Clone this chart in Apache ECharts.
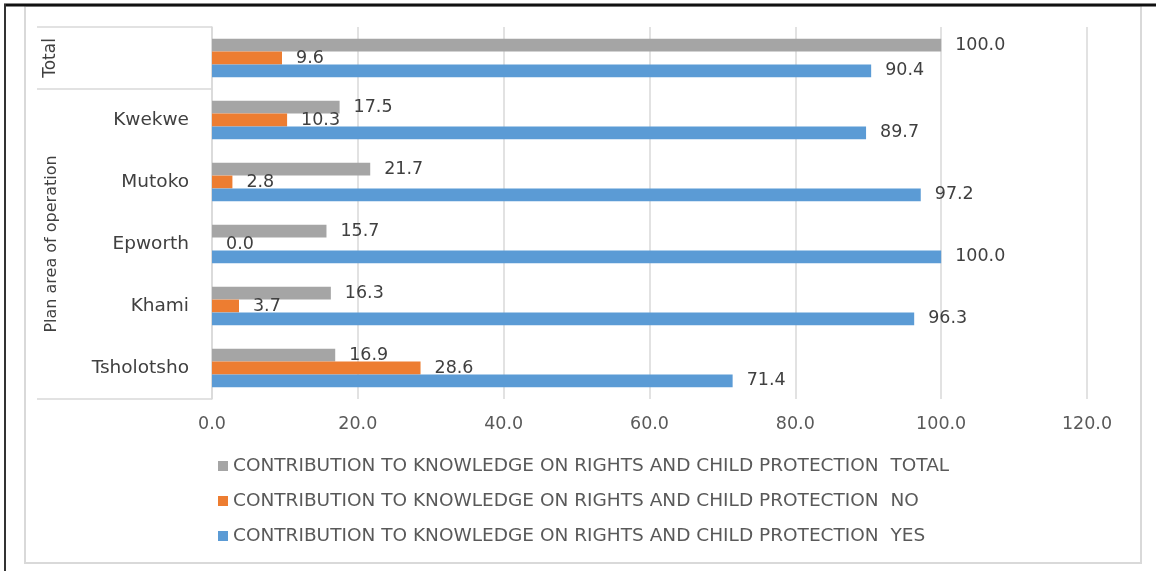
<!DOCTYPE html>
<html>
<head>
<meta charset="utf-8">
<script src="https://cdn.jsdelivr.net/npm/echarts@6/dist/echarts.min.js"></script>
<style>
html,body{margin:0;padding:0;background:#fff;}
#c{width:1156px;height:571px;}
</style>
</head>
<body>
<div id="c"></div>
<script>
// Categories from bottom to top
var categories = ['Tsholotsho', 'Khami', 'Epworth', 'Mutoko', 'Kwekwe', 'Total'];
var yesValues = [71.4, 96.3, 100.0, 97.2, 89.7, 90.4];
var noValues = [28.6, 3.7, 0.0, 2.8, 10.3, 9.6];
var totalValues = [16.9, 16.3, 15.7, 21.7, 17.5, 100.0];
var seriesNames = [
  'CONTRIBUTION TO KNOWLEDGE ON RIGHTS AND CHILD PROTECTION  TOTAL',
  'CONTRIBUTION TO KNOWLEDGE ON RIGHTS AND CHILD PROTECTION  NO',
  'CONTRIBUTION TO KNOWLEDGE ON RIGHTS AND CHILD PROTECTION  YES'
];
var groupLabel = 'Plan area of operation';
var totalLabel = 'Total';
var xTicks = [0, 20, 40, 60, 80, 100, 120];

var FONT = '"DejaVu Sans", "Open Sans", sans-serif';
var chart = echarts.init(document.getElementById('c'), null, {renderer: 'canvas'});

function labelCfg() {
  return {
    show: true, position: 'right', distance: 14,
    color: '#404040', fontSize: 17.5, fontFamily: FONT,
    formatter: function (p) { return p.value.toFixed(1); }
  };
}

var option = {
  animation: false,
  backgroundColor: '#ffffff',
  grid: {left: 212, right: 69, top: 27, bottom: 172, containLabel: false},
  xAxis: {
    type: 'value', min: xTicks[0], max: xTicks[xTicks.length - 1], interval: 20,
    axisLine: {show: false}, axisTick: {show: false},
    splitLine: {show: true, lineStyle: {color: '#d9d9d9', width: 1.5}},
    axisLabel: {
      color: '#595959', fontSize: 17.5, fontFamily: FONT, margin: 16,
      formatter: function (v) { return v.toFixed(1); }
    }
  },
  yAxis: {
    type: 'category', data: categories,
    axisLine: {show: true, lineStyle: {color: '#d9d9d9', width: 1.5}},
    axisTick: {show: false},
    axisLabel: {
      color: '#404040', fontSize: 18.5, fontFamily: FONT, margin: 23,
      formatter: function (v) { return v === totalLabel ? '' : v; }
    }
  },
  legend: {
    orient: 'vertical', left: 213, top: 451,
    data: seriesNames.slice(),
    itemWidth: 10, itemHeight: 10, itemGap: 15, itemStyle: {borderWidth: 0},
    icon: 'rect',
    textStyle: {color: '#595959', fontSize: 18.5, fontFamily: FONT, lineHeight: 20}
  },
  series: [
    {name: seriesNames[0], type: 'bar', data: totalValues, barGap: '0%', barCategoryGap: '38%',
     itemStyle: {color: '#A5A5A5'}, label: labelCfg()},
    {name: seriesNames[1], type: 'bar', data: noValues, barGap: '0%', barCategoryGap: '38%',
     itemStyle: {color: '#ED7D31'}, label: labelCfg()},
    {name: seriesNames[2], type: 'bar', data: yesValues, barGap: '0%', barCategoryGap: '38%',
     itemStyle: {color: '#5B9BD5'}, label: labelCfg()}
  ]
};
chart.setOption(option);

// Decorations derived from the axes
var x0 = chart.convertToPixel({xAxisIndex: 0}, 0);
var cTop = chart.convertToPixel({yAxisIndex: 0}, categories[categories.length - 1]);
var cNext = chart.convertToPixel({yAxisIndex: 0}, categories[categories.length - 2]);
var cBot = chart.convertToPixel({yAxisIndex: 0}, categories[0]);
var band = cNext - cTop;
var yTop = cTop - band / 2;
var yDiv = cTop + band / 2;
var yBot = cBot + band / 2;
var boxLeft = 37;
var lineStyle = {stroke: '#d9d9d9', lineWidth: 1.5};

chart.setOption({
  graphic: [
    {type: 'rect', shape: {x: 25, y: 6, width: 1116, height: 557}, style: {fill: 'none', stroke: '#d9d9d9', lineWidth: 2}, z: 0},
    {type: 'line', shape: {x1: 4, y1: 5, x2: 1156, y2: 5}, style: {stroke: '#111', lineWidth: 3}, z: 10},
    {type: 'line', shape: {x1: 5, y1: 4, x2: 5, y2: 571}, style: {stroke: '#333', lineWidth: 2}, z: 10},
    {type: 'line', shape: {x1: boxLeft, y1: yTop, x2: x0, y2: yTop}, style: lineStyle},
    {type: 'line', shape: {x1: boxLeft, y1: yDiv, x2: x0, y2: yDiv}, style: lineStyle},
    {type: 'line', shape: {x1: boxLeft, y1: yBot, x2: x0, y2: yBot}, style: lineStyle},
    {type: 'text', x: 51, y: cTop, rotation: Math.PI / 2,
     style: {text: totalLabel, fill: '#404040', fontSize: 17, fontFamily: FONT, textAlign: 'center', textVerticalAlign: 'middle'}},
    {type: 'text', x: 52, y: (yDiv + yBot) / 2, rotation: Math.PI / 2,
     style: {text: groupLabel, fill: '#404040', fontSize: 16, fontFamily: FONT, textAlign: 'center', textVerticalAlign: 'middle'}}
  ]
});
</script>
</body>
</html>
